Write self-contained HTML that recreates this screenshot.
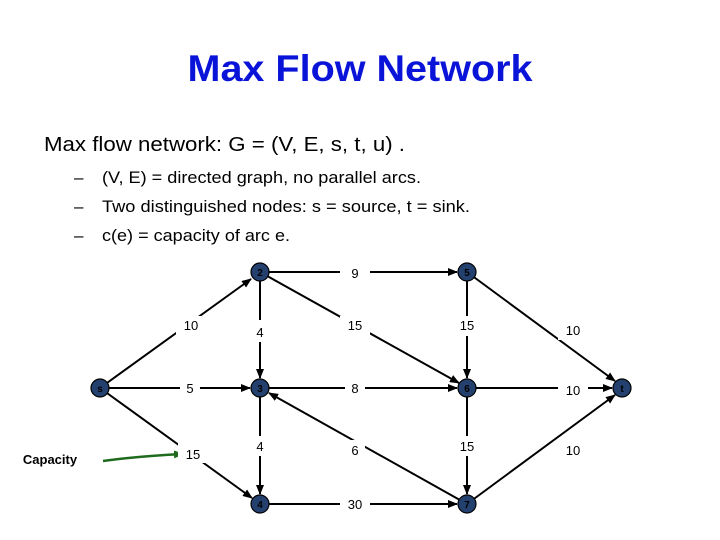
<!DOCTYPE html>
<html><head><meta charset="utf-8"><style>
html,body{margin:0;padding:0;background:#fff;}
svg{display:block;}
</style></head><body>
<svg width="720" height="540" viewBox="0 0 720 540" xmlns="http://www.w3.org/2000/svg">
<defs>
<marker id="a" markerWidth="10" markerHeight="8" refX="9" refY="4" orient="auto" markerUnits="userSpaceOnUse">
<path d="M0,0 L10,4 L0,8 z" fill="#000"/></marker>
<marker id="g" markerWidth="10" markerHeight="8" refX="9" refY="4" orient="auto" markerUnits="userSpaceOnUse">
<path d="M0,0 L10,4 L0,8 z" fill="#1e6b1e"/></marker>
</defs>
<text x="360" y="81" text-anchor="middle" font-family="Liberation Sans, sans-serif" font-weight="bold" font-size="37" fill="#0a14d8" textLength="345" lengthAdjust="spacingAndGlyphs">Max Flow Network</text>
<g font-family="Liberation Sans, sans-serif" fill="#000">
<text x="44" y="151" font-size="20" textLength="361" lengthAdjust="spacingAndGlyphs">Max flow network:  G = (V, E, s, t, u) .</text>
<text x="74" y="183" font-size="17">–</text>
<text x="102" y="183" font-size="17" textLength="319" lengthAdjust="spacingAndGlyphs">(V, E) = directed graph, no parallel arcs.</text>
<text x="74" y="212" font-size="17">–</text>
<text x="102" y="212" font-size="17" textLength="368" lengthAdjust="spacingAndGlyphs">Two distinguished nodes:  s = source, t = sink.</text>
<text x="74" y="241" font-size="17">–</text>
<text x="102" y="241" font-size="17" textLength="188" lengthAdjust="spacingAndGlyphs">c(e) = capacity of arc e.</text>
</g>
<g stroke="#000" stroke-width="2" fill="none" marker-end="url(#a)">
<line x1="100" y1="388" x2="251" y2="279"/>
<line x1="100" y1="388" x2="250" y2="388"/>
<line x1="100" y1="388" x2="252" y2="498"/>
<line x1="260" y1="272" x2="457" y2="272"/>
<line x1="260" y1="272" x2="459" y2="383"/>
<line x1="260" y1="272" x2="260" y2="378"/>
<line x1="260" y1="388" x2="260" y2="494"/>
<line x1="260" y1="388" x2="457" y2="388"/>
<line x1="467" y1="504" x2="269" y2="393"/>
<line x1="260" y1="504" x2="457" y2="504"/>
<line x1="467" y1="272" x2="467" y2="378"/>
<line x1="467" y1="388" x2="467" y2="494"/>
<line x1="467" y1="272" x2="615" y2="381"/>
<line x1="467" y1="388" x2="612" y2="388"/>
<line x1="467" y1="504" x2="615" y2="395"/>
<path d="M103,461 Q140,456 183,454" stroke="#1e6b1e" stroke-width="2.5" marker-end="url(#g)"/>
</g>
<g font-family="Liberation Sans, sans-serif" font-size="13" text-anchor="middle">
<g fill="#fff">
<rect x="176" y="316" width="30" height="20"/><rect x="250" y="320" width="20" height="22"/>
<rect x="340" y="316" width="30" height="20"/><rect x="452" y="316" width="30" height="20"/>
<rect x="558" y="320" width="30" height="20"/>
<rect x="180" y="378" width="20" height="20"/><rect x="345" y="378" width="20" height="20"/>
<rect x="558" y="380" width="30" height="20"/>
<rect x="178" y="443" width="30" height="20"/><rect x="250" y="436" width="20" height="20"/>
<rect x="345" y="440" width="20" height="20"/><rect x="452" y="436" width="30" height="20"/>
<rect x="558" y="440" width="30" height="20"/>
<rect x="340" y="263" width="30" height="20"/><rect x="340" y="494" width="30" height="20"/>
</g>
<g fill="#000">
<text x="191" y="330">10</text><text x="260" y="337">4</text><text x="355" y="330">15</text>
<text x="467" y="330">15</text><text x="573" y="335">10</text>
<text x="190" y="393">5</text><text x="355" y="393">8</text><text x="573" y="395">10</text>
<text x="193" y="459">15</text><text x="260" y="451">4</text><text x="355" y="455">6</text>
<text x="467" y="451">15</text><text x="573" y="455">10</text>
<text x="355" y="278">9</text><text x="355" y="509">30</text>
</g>
<text x="50" y="464" font-weight="bold" fill="#000">Capacity</text>
</g>
<g stroke="#000" stroke-width="1.2" fill="#23406e">
<circle cx="100" cy="388" r="9"/><circle cx="260" cy="272" r="9"/><circle cx="260" cy="388" r="9"/>
<circle cx="260" cy="504" r="9"/><circle cx="467" cy="272" r="9"/><circle cx="467" cy="388" r="9"/>
<circle cx="467" cy="504" r="9"/><circle cx="622" cy="388" r="9"/>
</g>
<g font-family="Liberation Sans, sans-serif" font-size="10" font-weight="bold" fill="#000" text-anchor="middle">
<text x="100" y="392">s</text><text x="260" y="276">2</text><text x="260" y="392">3</text>
<text x="260" y="508">4</text><text x="467" y="276">5</text><text x="467" y="392">6</text>
<text x="467" y="508">7</text><text x="622" y="392">t</text>
</g>
</svg>
</body></html>
